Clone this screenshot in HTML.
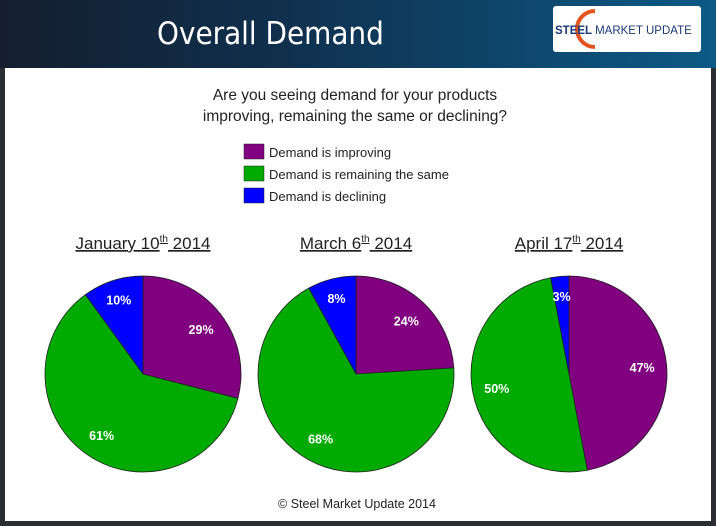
<!DOCTYPE html>
<html><head><meta charset="utf-8"><style>
body{margin:0;width:716px;height:526px;overflow:hidden;background:#2a2d31;font-family:"Liberation Sans",sans-serif}
#hdr{position:absolute;left:0;top:0;width:716px;height:68px;background:linear-gradient(90deg,#141e2e 0%,#10304e 40%,#0c5a86 100%)}
#panel{position:absolute;left:5px;top:68px;width:706px;height:453px;background:#fff}
</style></head><body>
<div id="hdr">
<div style="position:absolute;left:157px;top:16px;font-size:31px;color:#fff;font-family:'DejaVu Sans Condensed','Liberation Sans Narrow',sans-serif">Overall Demand</div>
<div style="position:absolute;left:553px;top:6px;width:148px;height:46px;background:#fff;border-radius:3px">
<svg width="148" height="46"><path d="M42 5 A18 18 0 1 0 42 41" fill="none" stroke="#e2541c" stroke-width="4"/><text x="2" y="28" font-size="11.5" font-weight="bold" fill="#1b3a78" font-family="Liberation Sans">STEEL <tspan font-weight="normal">MARKET UPDATE</tspan></text></svg></div>
</div>
<div id="panel"></div>
<svg id="chart" width="716" height="526" style="position:absolute;left:0;top:0">
<text x="355" y="100" text-anchor="middle" font-size="15.5" fill="#222">Are you seeing demand for your products</text>
<text x="355" y="121" text-anchor="middle" font-size="15.5" fill="#222">improving, remaining the same or declining?</text>
<text x="357" y="508" text-anchor="middle" font-size="12.5" fill="#222">© Steel Market Update 2014</text>
</svg>
<script>
const seriesNames=["Demand is improving","Demand is remaining the same","Demand is declining"];
const colors=["#800080","#00aa00","#0000ff"];
const dates=["January 10","March 6","April 17"];
const improving=[29,24,47];
const same=[61,68,50];
const declining=[10,8,3];
const svg=document.getElementById('chart');
const NS="http://www.w3.org/2000/svg";
function mk(t,a){const e=document.createElementNS(NS,t);for(const k in a)e.setAttribute(k,a[k]);svg.appendChild(e);return e;}
seriesNames.forEach((n,i)=>{
 const r=mk('rect',{x:244,y:144+i*22,width:20,height:15,fill:colors[i],stroke:'#222','stroke-width':0.5});
 
 
 const t=mk('text',{x:269,y:157+i*22,'font-size':13,fill:'#222'});t.textContent=n;
 
 
});
const cx0=143,dx=213,cy=374,R=98;
dates.forEach((d,j)=>{
 const cx=cx0+j*dx;
 const t=mk('text',{x:cx,y:249,'text-anchor':'middle','font-size':17,fill:'#222','text-decoration':'underline'});
 t.innerHTML=d+'<tspan font-size="10" dy="-7">th</tspan><tspan dy="7"> 2014</tspan>';
 
 
 const vals=[improving[j],same[j],declining[j]];
 const tot=vals.reduce((a,b)=>a+b,0);
 let a0=0;
 vals.forEach((v,i)=>{
  const a1=a0+v/tot*2*Math.PI;
  const p=a=>[cx+R*Math.sin(a),cy-R*Math.cos(a)];
  const [x0,y0]=p(a0),[x1,y1]=p(a1);
  const path=mk('path',{d:`M${cx},${cy}L${x0},${y0}A${R},${R} 0 ${a1-a0>Math.PI?1:0} 1 ${x1},${y1}Z`,fill:colors[i],stroke:'#222','stroke-width':0.8});
  
  
  const am=(a0+a1)/2,rr=v<12?0.8:0.75;
  const lb=mk('text',{x:cx+R*rr*Math.sin(am),y:cy-R*rr*Math.cos(am)+5,'text-anchor':'middle','font-size':12.5,'font-weight':'bold',fill:'#fff'});
  lb.textContent=v+'%';
  
  
  a0=a1;
 });
});
</script>
</body></html>
